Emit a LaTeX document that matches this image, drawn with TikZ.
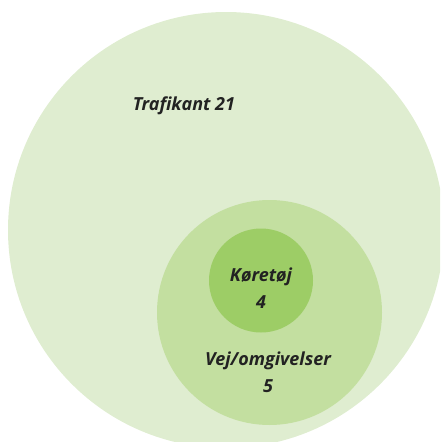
\documentclass[tikz,border=0pt]{standalone}
\usepackage{fontspec}
\setmainfont{Open Sans}
\usetikzlibrary{positioning}
\definecolor{outergreen}{HTML}{DFEDD0}
\definecolor{midgreen}{HTML}{C3DFA0}
\definecolor{innergreen}{HTML}{9DCD66}
\definecolor{labelgray}{HTML}{222222}

\begin{document}
\begin{tikzpicture}[x=1pt,y=-1pt,
  zone/.style={circle,draw=none,inner sep=0pt,outer sep=0pt},
  lbl/.style={font=\fontsize{18}{27}\selectfont\bfseries\itshape,text=labelgray,align=center,inner sep=0pt}]
      \useasboundingbox (0,0) rectangle (440,442);
      \clip (0,0) rectangle (440,442);

     \node [zone,fill=outergreen,minimum size=436pt] (trafikant) at (226,230) {};
     \node [zone,fill=midgreen,minimum size=225pt] (vej) at (269.5,312.5) {};
     \node [zone,fill=innergreen,minimum size=104pt] (koretoj) at (261,280.5) {};

     \node [lbl] (trafikanttxt) at (184,106) {Trafikant 21};
     \node [lbl] (koretojtxt) at (261,288) {Køretøj\\4};
     \node [lbl] (vejtxt) at (268,372) {Vej/omgivelser\\5};

  \end{tikzpicture}
\end{document}
